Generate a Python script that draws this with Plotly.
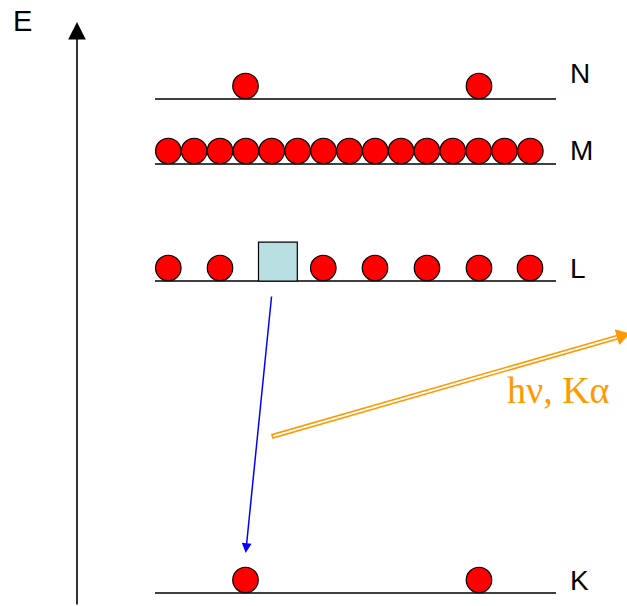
import plotly.graph_objects as go
import numpy as np

# ---- data (diagram units = pixels of a 627x606 canvas, y grows downward) ----
level_names = ["N", "M", "L", "K"]
level_y = [99, 164, 281, 593]
label_y = [73, 150.5, 268, 580]
level_x0 = 155
level_x1 = 556

n_electrons_x = [245.5, 479]
m_electrons_x = [168.3 + 25.86 * i for i in range(15)]
l_electrons_x = [168.3, 220, 323.3, 375, 427, 479, 530]
k_electrons_x = [245.5, 479]
vacancy_x = [258.5, 297.3]   # hole left in L shell

transition_start = (271.7, 295)   # L vacancy -> K
transition_end = (245.7, 553)
photon_start = (271.7, 436.5)
photon_end = (629, 333.8)
photon_label = "hν, Kα"

axis_x = 77
axis_bottom = 606
axis_top = 22

W, H = 627, 606
R = 13    # electron radius

fig = go.Figure()

# level lines
for name, y, ly in zip(level_names, level_y, label_y):
    fig.add_shape(type="line", x0=level_x0, x1=level_x1, y0=y, y1=y,
                  line=dict(color="black", width=1.3), layer="below")
    fig.add_annotation(x=568, y=ly, text=name, showarrow=False,
                       font=dict(family="Liberation Sans, Arial", size=28, color="black"),
                       xanchor="left", yanchor="middle")

# electrons
ex, ey = [], []
for xs, y in zip([n_electrons_x, m_electrons_x, l_electrons_x, k_electrons_x], level_y):
    for x in xs:
        ex.append(x)
        ey.append(y - R)
fig.add_trace(go.Scatter(x=ex, y=ey, mode="markers",
                         marker=dict(size=25.5, color="#FF0000",
                                     line=dict(color="black", width=1.2)),
                         hoverinfo="skip", showlegend=False))

# vacancy square
fig.add_shape(type="rect", x0=vacancy_x[0], x1=vacancy_x[1],
              y0=level_y[2] - (vacancy_x[1] - vacancy_x[0]), y1=level_y[2],
              fillcolor="#BADFE0", line=dict(color="black", width=1.2))

# energy axis
fig.add_annotation(x=axis_x, y=axis_top, ax=axis_x, ay=axis_bottom,
                   xref="x", yref="y", axref="x", ayref="y",
                   showarrow=True, arrowhead=2, arrowsize=2.2, arrowwidth=1.6,
                   arrowcolor="black", text="")
fig.add_annotation(x=22, y=21, text="E", showarrow=False,
                   font=dict(family="Liberation Sans, Arial", size=29, color="black"),
                   xanchor="center", yanchor="middle")

# transition arrow (blue)
fig.add_annotation(x=transition_end[0], y=transition_end[1],
                   ax=transition_start[0], ay=transition_start[1],
                   xref="x", yref="y", axref="x", ayref="y",
                   showarrow=True, arrowhead=2, arrowsize=1.3, arrowwidth=1.5,
                   arrowcolor="#0000FF", text="")

# photon double arrow (orange)
ORANGE = "#FF9900"
dx = photon_end[0] - photon_start[0]
dy = photon_end[1] - photon_start[1]
Ln = np.hypot(dx, dy)
ux, uy = dx / Ln, dy / Ln
nx, ny = -uy, ux
head_len, head_half = 12, 7.5
back = head_len - 2
fig.add_shape(type="line", x0=photon_start[0], y0=photon_start[1],
              x1=photon_end[0] - ux * back, y1=photon_end[1] - uy * back,
              line=dict(color=ORANGE, width=5))
fig.add_shape(type="line", x0=photon_start[0] + ux * 1.5, y0=photon_start[1] + uy * 1.5,
              x1=photon_end[0] - ux * (back + 1), y1=photon_end[1] - uy * (back + 1),
              line=dict(color="white", width=1.8))
bx, by = photon_end[0] - ux * head_len, photon_end[1] - uy * head_len
head_path = "M {:.2f},{:.2f} L {:.2f},{:.2f} L {:.2f},{:.2f} Z".format(
    photon_end[0], photon_end[1],
    bx + nx * head_half, by + ny * head_half,
    bx - nx * head_half, by - ny * head_half)
fig.add_shape(type="path", path=head_path, fillcolor=ORANGE,
              line=dict(color=ORANGE, width=1))
fig.add_annotation(x=558.5, y=390, text=photon_label, showarrow=False,
                   font=dict(family="Liberation Serif, Times New Roman", size=38, color=ORANGE),
                   xanchor="center", yanchor="middle")

fig.update_layout(width=W, height=H, margin=dict(l=0, r=0, t=0, b=0),
                  paper_bgcolor="white", plot_bgcolor="white",
                  xaxis=dict(range=[0, W], visible=False, fixedrange=True),
                  yaxis=dict(range=[H, 0], visible=False, fixedrange=True),
                  showlegend=False, hovermode=False)

fig.write_html("out.html", config={"displayModeBar": False, "staticPlot": True},
               post_script="document.body.style.margin='0';document.body.style.overflow='hidden';")
